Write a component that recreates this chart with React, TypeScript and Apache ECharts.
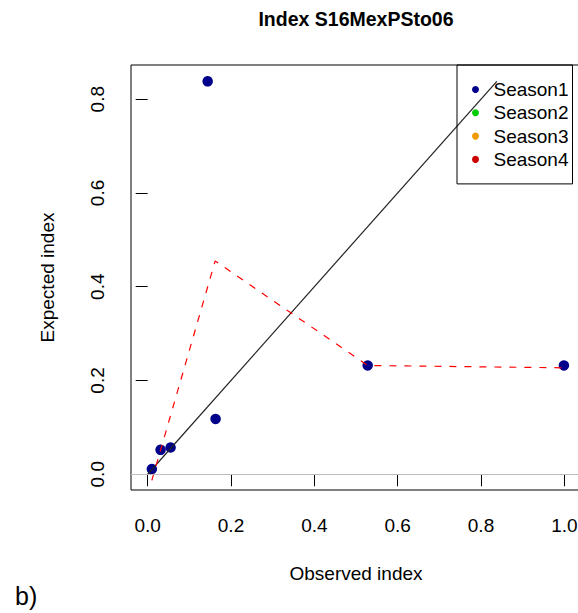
import React, { useEffect, useRef } from "react";
import * as echarts from "echarts";

const seasons = ["Season1", "Season2", "Season3", "Season4"];
const seasonColors = ["#00008B", "#00CD00", "#EE9A00", "#CD0000"];

// Season1 points: observed vs expected index
const observed = [0.010, 0.031, 0.055, 0.163, 0.144, 0.528, 0.999];
const expected = [0.011, 0.052, 0.057, 0.118, 0.838, 0.232, 0.232];

// dashed fitted curve
const fitObserved = [0.010, 0.162, 0.528, 1.0];
const fitExpected = [-0.013, 0.455, 0.232, 0.227];

// 1:1 reference line end points
const oneToOne = [0, 0.838];

const xTicks = [0, 0.2, 0.4, 0.6, 0.8, 1.0];
const yTicks = [0, 0.2, 0.4, 0.6, 0.8];

const FONT = "'Liberation Sans', Arial, Helvetica, sans-serif";

export default function App() {
  const ref = useRef<HTMLDivElement>(null);

  useEffect(() => {
    const chart = echarts.init(ref.current!, null, { renderer: "svg" });
    chart.setOption({
      animation: false,
      backgroundColor: "#ffffff",
      textStyle: { fontFamily: FONT },
      title: {
        text: "Index S16MexPSto06",
        left: 356,
        top: 9,
        padding: 0,
        textAlign: "center",
        textStyle: { fontSize: 19.5, fontWeight: "bold", color: "#000", fontFamily: FONT },
      },
      grid: {
        left: 131,
        top: 65,
        right: -3,
        bottom: 123,
        show: true,
        borderColor: "#000",
        borderWidth: 1,
        backgroundColor: "transparent",
        outerBoundsMode: "none",
      },
      legend: {
        data: seasons,
        orient: "vertical",
        left: 457,
        top: 65,
        padding: [15, 4, 15, 15],
        itemWidth: 26,
        itemHeight: 7,
        itemGap: 4.3,
        icon: "circle",
        borderColor: "#000",
        borderWidth: 1,
        borderRadius: 0,
        selectedMode: false,
        itemStyle: { opacity: 1 },
        textStyle: { fontSize: 19, lineHeight: 19, color: "#000", fontFamily: FONT },
      },
      xAxis: {
        type: "value",
        min: -0.04,
        max: 1.04,
        name: "Observed index",
        nameLocation: "middle",
        nameGap: 74,
        nameTextStyle: { fontSize: 19, color: "#000", fontFamily: FONT },
        axisLine: { show: false },
        splitLine: { show: false },
        axisTick: {
          show: true,
          inside: false,
          length: 12,
          customValues: xTicks,
          lineStyle: { color: "#000", width: 1 },
        },
        axisLabel: {
          show: true,
          margin: 26,
          fontSize: 19,
          color: "#000",
          fontFamily: FONT,
          customValues: xTicks,
          formatter: (v: number) => v.toFixed(1),
        },
      },
      yAxis: {
        type: "value",
        min: -0.0336,
        max: 0.8729,
        name: "Expected index",
        nameLocation: "middle",
        nameGap: 74,
        nameRotate: 90,
        nameTextStyle: { fontSize: 19, color: "#000", fontFamily: FONT },
        axisLine: { show: false },
        splitLine: { show: false },
        axisTick: {
          show: true,
          inside: false,
          length: 12,
          customValues: yTicks,
          lineStyle: { color: "#000", width: 1 },
        },
        axisLabel: {
          show: true,
          rotate: 90,
          margin: 24,
          fontSize: 19,
          color: "#000",
          fontFamily: FONT,
          customValues: yTicks,
          formatter: (v: number) => v.toFixed(1),
        },
      },
      graphic: [
        {
          type: "text",
          left: 15,
          top: 583,
          style: { text: "b)", fontSize: 25, fill: "#000", fontFamily: FONT },
        },
      ],
      series: [
        {
          name: "zero",
          type: "line",
          data: [],
          z: 1,
          markLine: {
            silent: true,
            symbol: ["none", "none"],
            label: { show: false },
            lineStyle: { color: "#BEBEBE", type: "solid", width: 1 },
            data: [{ yAxis: 0 }],
          },
        },
        {
          name: seasons[0],
          type: "scatter",
          symbol: "circle",
          symbolSize: 10.5,
          itemStyle: { color: seasonColors[0], opacity: 1 },
          z: 2,
          data: observed.map((x, i) => [x, expected[i]]),
        },
        ...seasons.slice(1).map((s, i) => ({
          name: s,
          type: "scatter",
          symbol: "circle",
          itemStyle: { color: seasonColors[i + 1], opacity: 1 },
          data: [],
        })),
        {
          name: "1:1",
          type: "line",
          showSymbol: false,
          symbol: "none",
          z: 3,
          lineStyle: { color: "#222", width: 1.2 },
          data: [
            [oneToOne[0], oneToOne[0]],
            [oneToOne[1], oneToOne[1]],
          ],
        },
        {
          name: "fit",
          type: "line",
          showSymbol: false,
          symbol: "none",
          z: 4,
          lineStyle: { color: "#FF0000", width: 1.2, type: [7, 8] },
          data: fitObserved.map((x, i) => [x, fitExpected[i]]),
        },
      ],
    });
    return () => chart.dispose();
  }, []);

  return (
    <div
      ref={ref}
      style={{ position: "fixed", left: 0, top: 0, width: 578, height: 613, background: "#fff" }}
    />
  );
}
